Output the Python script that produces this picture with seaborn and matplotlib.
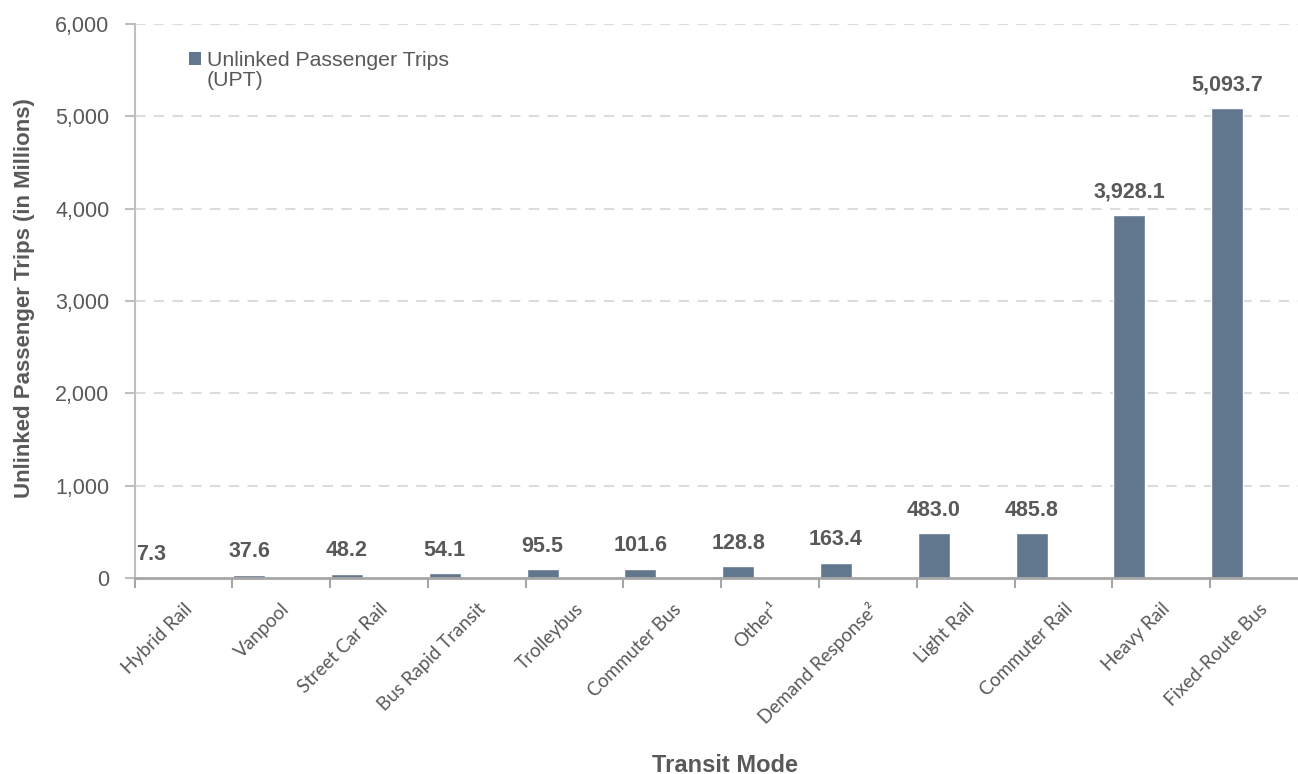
import matplotlib
matplotlib.use("Agg")
import matplotlib.pyplot as plt
from matplotlib.patches import Patch
from matplotlib.ticker import FuncFormatter, FixedLocator
import seaborn as sns
import pandas as pd
import numpy as np

modes = ["Hybrid Rail", "Vanpool", "Street Car Rail", "Bus Rapid Transit", "Trolleybus",
         "Commuter Bus", "Other\u00b9", "Demand Response\u00b2", "Light Rail", "Commuter Rail",
         "Heavy Rail", "Fixed-Route Bus"]
upt = [7.3, 37.6, 48.2, 54.1, 95.5, 101.6, 128.8, 163.4, 483.0, 485.8, 3928.1, 5093.7]
series_name = "Unlinked Passenger Trips (UPT)"
legend_lines = ["Unlinked Passenger Trips", "(UPT)"]
y_ticks = [0, 1000, 2000, 3000, 4000, 5000, 6000]

BAR = "#61778d"
TXT = "#595959"

sns.set_theme(style="white")
plt.rcParams["font.family"] = ["Liberation Sans", "DejaVu Sans"]

df = pd.DataFrame({"mode": modes, "upt": upt, "series": series_name})

fig = plt.figure(figsize=(12.98, 7.74), dpi=100)
ax = fig.add_axes([134.5 / 1298, 1 - 578 / 774, (1308 - 134.5) / 1298, (578 - 24) / 774])

sns.barplot(data=df, x="mode", y="upt", hue="series",
            hue_order=[series_name, "_h1", "_h2"],
            palette=[BAR, "white", "white"], width=0.98, dodge=True,
            saturation=1, legend=False, ax=ax, order=modes)

ax.bar_label(ax.containers[0], labels=[f"{v:,.1f}" for v in upt], padding=9,
             fontsize=15.5, fontweight="bold", color=TXT)

ax.set_xlim(-0.5, len(modes) - 0.5)
ax.set_ylim(0, 6000)
ax.set_yticks(y_ticks)
ax.yaxis.set_major_formatter(FuncFormatter(lambda v, p: f"{v:,.0f}"))
ax.tick_params(axis="y", which="major", length=7, width=1.5, color="#bfbfbf",
               labelsize=15.5, labelcolor=TXT, pad=11, left=True)

ax.set_xticks(range(len(modes)))
ax.set_xticklabels(modes, rotation=45, ha="right", rotation_mode="anchor",
                   family=["Lato", "DejaVu Sans"], fontsize=13.5, color=TXT)
ax.tick_params(axis="x", which="major", length=0, pad=16)
ax.xaxis.set_minor_locator(FixedLocator(np.arange(-0.5, len(modes), 1.0)))
ax.tick_params(axis="x", which="minor", length=7, width=1.5, color="#a6a6a6", bottom=True)

for y in y_ticks[1:]:
    ax.axhline(y, color="#dcdcdc", lw=1.5, ls=(0, (5, 4)), zorder=0)
ax.grid(False)

for s in ["top", "right"]:
    ax.spines[s].set_visible(False)
ax.spines["left"].set_color("#bfbfbf")
ax.spines["left"].set_linewidth(1.5)
ax.spines["bottom"].set_color("#a6a6a6")
ax.spines["bottom"].set_linewidth(2)

ax.set_xlabel("")
ax.set_ylabel("")
fig.text(725 / 1298, 1 - 765 / 774, "Transit Mode", ha="center", va="center",
         fontsize=17, fontweight="bold", color=TXT)
fig.text(25 / 1298, 1 - 298 / 774, "Unlinked Passenger Trips (in Millions)", ha="center",
         va="center", rotation=90, fontsize=16, fontweight="bold", color=TXT)

fig.legend(handles=[Patch(facecolor=BAR, edgecolor="none"),
                    Patch(facecolor="none", edgecolor="none")],
           labels=legend_lines,
           loc="upper left", bbox_to_anchor=(189 / 1298, 1 - 51 / 774), frameon=False,
           handlelength=0.55, handleheight=0.55, handletextpad=0.3, borderpad=0,
           borderaxespad=0, labelspacing=0.05, fontsize=15.3, labelcolor=TXT)

fig.savefig("out.png", dpi=100)
